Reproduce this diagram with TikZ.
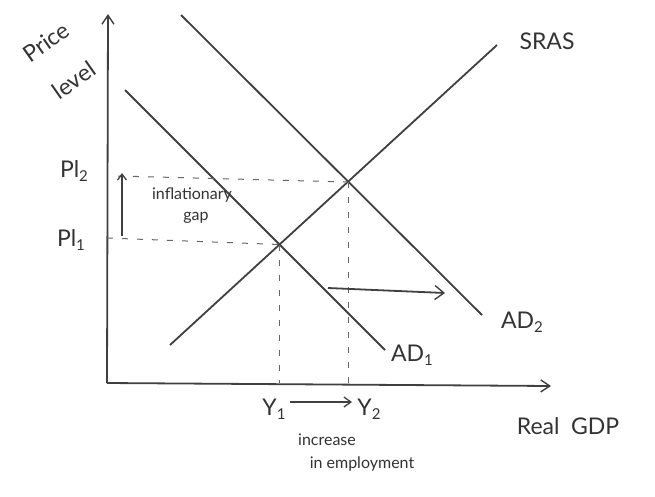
\documentclass[tikz,border=0pt]{standalone}
\usepackage{fontspec}
\setmainfont{Lato}
\usetikzlibrary{arrows.meta}
\newcommand{\sbs}[1]{\raisebox{-0.35ex}{\fontsize{15}{16}\selectfont #1}}
\begin{document}
\begin{tikzpicture}[x=1pt,y=-1pt,
  pencil/.style={draw=black!75, line width=1.8pt},
  axisline/.style={pencil, -{Straight Barb[length=9pt,width=12pt,line width=1.4pt]}},
  guide/.style={draw=black!60, line width=1pt, dash pattern=on 6pt off 9pt},
  lbl/.style={text=black!80, inner sep=1pt, font=\fontsize{23}{25}\selectfont},
  small/.style={text=black!80, inner sep=1pt, font=\fontsize{16}{18}\selectfont}]
\useasboundingbox[fill=white] (0,0) rectangle (655,496);
% axes
\coordinate (O) at (107,383);
\coordinate (ytop) at (108,14);
\coordinate (xend) at (551,386);
\draw[axisline] (O) -- (ytop);
\draw[axisline] (O) -- (xend);
% curves
\coordinate (s1) at (170,345); \coordinate (s2) at (497,45);
\coordinate (a1) at (125,90);  \coordinate (a2) at (385,350);
\coordinate (b1) at (181,15);  \coordinate (b2) at (482,315);
\draw[pencil] (s1) -- (s2);
\draw[pencil] (a1) -- (a2);
\draw[pencil] (b1) -- (b2);
\coordinate (E1) at (279.5,244.5);
\coordinate (E2) at (348,182);
% guides
\coordinate (p2) at (118,176);
\coordinate (p1) at (107,238);
\draw[guide] (p2) -- (E2);
\draw[guide] (p1) -- (E1);
\draw[guide] (E1) -- (E1 |- O);
\draw[guide] (E2) -- (E2 |- O);
% gap arrow
\coordinate (g1) at (122,236); \coordinate (g2) at (122,173);
\draw[pencil, line width=1.3pt, -{Straight Barb[length=6pt,width=9pt]}] (g1) -- (g2);
% shift arrow
\coordinate (sh1) at (328,288); \coordinate (sh2) at (445,293);
\draw[pencil, -{Straight Barb[length=9pt,width=14pt,line width=1.4pt]}] (sh1) -- (sh2);
% labels
\node[lbl, rotate=35] (price) at (46,42) {Price};
\node[lbl, rotate=35] (level) at (74,80) {level};
\node[lbl] (sras) at (547,41) {SRAS};
\node[lbl] (pl2) at (74,171) {Pl\sbs{2}};
\node[lbl] (pl1) at (71,240) {Pl\sbs{1}};
\node[small] (infl) at (192,195) {inflationary};
\node[small] (gap) at (196,218) {gap};
\node[lbl] (ad2) at (522,322) {AD\sbs{2}};
\node[lbl] (ad1) at (412,355) {AD\sbs{1}};
\node[lbl] (y1) at (274,409) {Y\sbs{1}};
\node[lbl] (y2) at (369,409) {Y\sbs{2}};
\coordinate (ya) at (290,402); \coordinate (yb) at (352,402);
\draw[pencil, line width=1.3pt, -{Straight Barb[length=7pt,width=10pt]}] (ya) -- (yb);
\node[small] (incr) at (327,440) {increase};
\node[small] (empl) at (362,464) {in employment};
\node[lbl] (gdp) at (568,426) {Real\enspace GDP};
\end{tikzpicture}
\end{document}
